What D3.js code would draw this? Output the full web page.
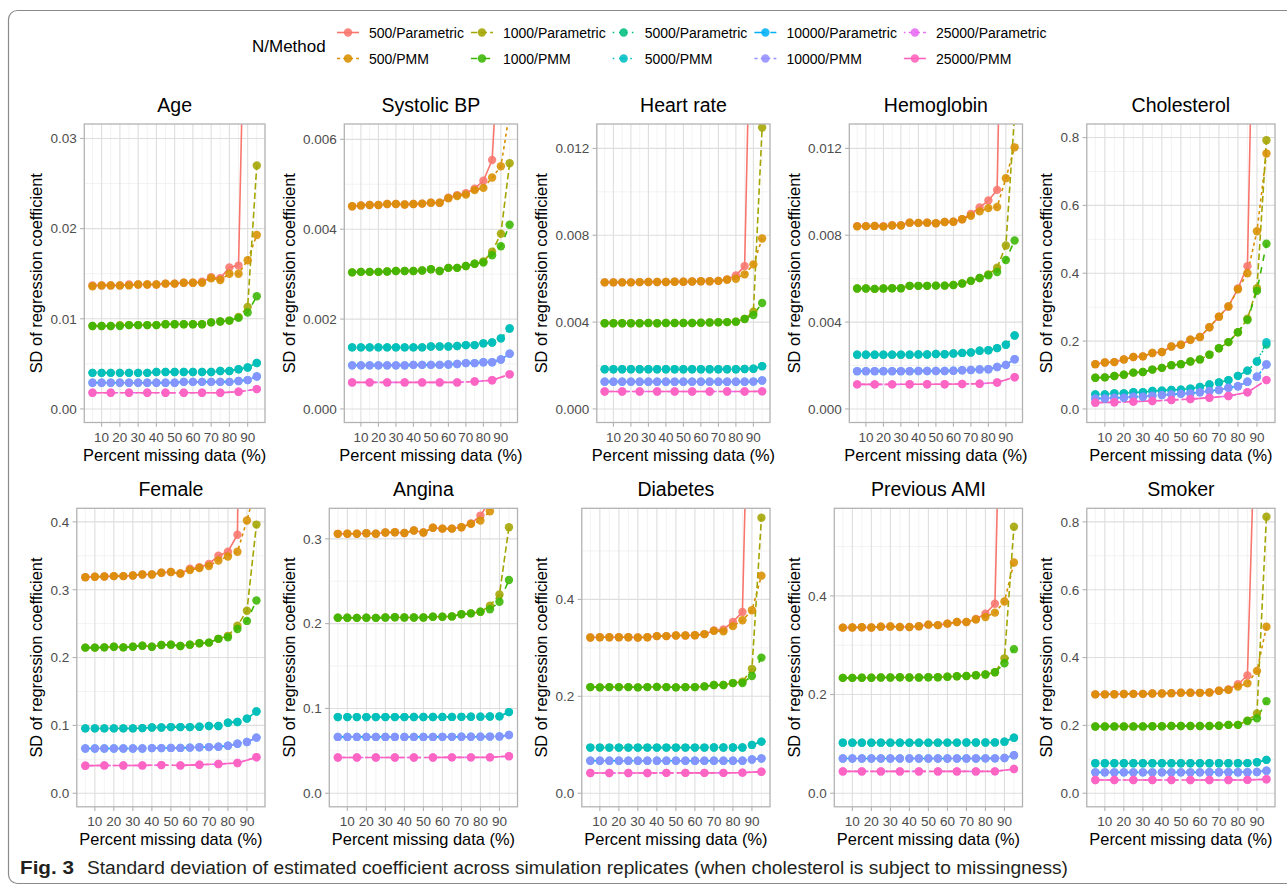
<!DOCTYPE html>
<html><head><meta charset="utf-8">
<script src="https://cdn.jsdelivr.net/npm/d3@7"></script>
<style>
body{margin:0;background:#fff}
svg{display:block}
text{font-family:"Liberation Sans",Arial,Helvetica,sans-serif}
</style>
</head><body>
<svg id="chart" width="1287" height="887"></svg>
<script>
// ---------------- DATA ----------------
const percentMissing = [5,10,15,20,25,30,35,40,45,50,55,60,65,70,75,80,85,90,95];
const percentMissing25k = [5,15,25,35,45,55,65,75,85,95];
const seriesNames = ["500/Parametric","500/PMM","1000/Parametric","1000/PMM","5000/Parametric","5000/PMM","10000/Parametric","10000/PMM","25000/Parametric","25000/PMM"];
const seriesColors = ["#F8766D","#D89000","#A3A500","#39B600","#00BF7D","#00BFC4","#00B0F6","#9590FF","#E76BF3","#FF62BC"];
const seriesLinetypes = ["solid","22","42","44","13","1343","73","2262","12223242","F282"];
const panelNames = ["Age","Systolic BP","Heart rate","Hemoglobin","Cholesterol","Female","Angina","Diabetes","Previous AMI","Smoker"];
const yUpperLimits = [0.0301,0.00604,0.0125,0.0125,0.8,0.4,0.32,0.56,0.55,0.8];
const yTickValues = [
  [0,0.01,0.02,0.03],
  [0,0.002,0.004,0.006],
  [0,0.004,0.008,0.012],
  [0,0.004,0.008,0.012],
  [0,0.2,0.4,0.6,0.8],
  [0,0.1,0.2,0.3,0.4],
  [0,0.1,0.2,0.3],
  [0,0.2,0.4],
  [0,0.2,0.4],
  [0,0.2,0.4,0.6,0.8]
];
const yTickLabels = [
  ["0.00","0.01","0.02","0.03"],
  ["0.000","0.002","0.004","0.006"],
  ["0.000","0.004","0.008","0.012"],
  ["0.000","0.004","0.008","0.012"],
  ["0.0","0.2","0.4","0.6","0.8"],
  ["0.0","0.1","0.2","0.3","0.4"],
  ["0.0","0.1","0.2","0.3"],
  ["0.0","0.2","0.4"],
  ["0.0","0.2","0.4"],
  ["0.0","0.2","0.4","0.6","0.8"]
];
const xTickValues = [10,20,30,40,50,60,70,80,90];
const xTickLabels = ["10","20","30","40","50","60","70","80","90"];

const sdAge = {
  "500/Parametric":[0.0137,0.0137,0.0137,0.0137,0.0138,0.0138,0.0138,0.0138,0.0139,0.0139,0.0140,0.0140,0.0141,0.0146,0.0145,0.0157,0.0159,0.0620,0.0900],
  "500/PMM":[0.0136,0.0137,0.0137,0.0137,0.0137,0.0138,0.0138,0.0138,0.0139,0.0139,0.0140,0.0140,0.0140,0.0145,0.0143,0.0150,0.0150,0.0165,0.0193],
  "1000/Parametric":[0.0092,0.0092,0.0092,0.0093,0.0093,0.0093,0.0093,0.0093,0.0094,0.0094,0.0094,0.0094,0.0094,0.0096,0.0097,0.0098,0.0102,0.0113,0.0270],
  "1000/PMM":[0.0092,0.0092,0.0092,0.0092,0.0093,0.0093,0.0093,0.0093,0.0094,0.0094,0.0094,0.0094,0.0094,0.0096,0.0097,0.0098,0.0101,0.0107,0.0125],
  "5000/Parametric":[0.0040,0.0040,0.0040,0.0040,0.0040,0.0040,0.0040,0.0041,0.0041,0.0041,0.0041,0.0041,0.0041,0.0041,0.0042,0.0042,0.0044,0.0046,0.0051],
  "5000/PMM":[0.0040,0.0040,0.0040,0.0040,0.0040,0.0040,0.0040,0.0041,0.0041,0.0041,0.0041,0.0041,0.0041,0.0041,0.0042,0.0042,0.0044,0.0046,0.0051],
  "10000/Parametric":[0.0029,0.0029,0.0029,0.0029,0.0029,0.0029,0.0029,0.0029,0.0029,0.0029,0.0030,0.0030,0.0030,0.0030,0.0030,0.0030,0.0031,0.0032,0.0036],
  "10000/PMM":[0.0029,0.0029,0.0029,0.0029,0.0029,0.0029,0.0029,0.0029,0.0029,0.0029,0.0030,0.0030,0.0030,0.0030,0.0030,0.0030,0.0031,0.0032,0.0036],
  "25000/Parametric":[0.0018,0.0018,0.0018,0.0018,0.0018,0.0018,0.0018,0.0018,0.0019,0.0022],
  "25000/PMM":[0.0018,0.0018,0.0018,0.0018,0.0018,0.0018,0.0018,0.0018,0.0019,0.0022]
};
const sdSystolicBP = {
  "500/Parametric":[0.00451,0.00453,0.00454,0.00454,0.00456,0.00456,0.00455,0.00456,0.00457,0.00459,0.00459,0.00470,0.00476,0.00480,0.00490,0.00508,0.00554,0.00900,0.01500],
  "500/PMM":[0.00451,0.00453,0.00454,0.00454,0.00456,0.00456,0.00455,0.00456,0.00457,0.00459,0.00459,0.00469,0.00474,0.00477,0.00487,0.00492,0.00515,0.00540,0.00660],
  "1000/Parametric":[0.00304,0.00305,0.00305,0.00305,0.00306,0.00307,0.00307,0.00307,0.00308,0.00311,0.00307,0.00314,0.00314,0.00318,0.00323,0.00328,0.00350,0.00390,0.00547],
  "1000/PMM":[0.00304,0.00305,0.00305,0.00305,0.00306,0.00307,0.00307,0.00307,0.00308,0.00311,0.00307,0.00314,0.00314,0.00318,0.00323,0.00326,0.00342,0.00362,0.00410],
  "5000/Parametric":[0.00137,0.00137,0.00137,0.00137,0.00137,0.00137,0.00137,0.00137,0.00137,0.00139,0.00139,0.00139,0.00140,0.00142,0.00142,0.00146,0.00148,0.00157,0.00179],
  "5000/PMM":[0.00137,0.00137,0.00137,0.00137,0.00137,0.00137,0.00137,0.00137,0.00137,0.00139,0.00139,0.00139,0.00140,0.00142,0.00142,0.00146,0.00148,0.00157,0.00179],
  "10000/Parametric":[0.00097,0.00097,0.00097,0.00097,0.00097,0.00097,0.00097,0.00098,0.00098,0.00098,0.00098,0.00099,0.00100,0.00102,0.00102,0.00104,0.00104,0.00110,0.00123],
  "10000/PMM":[0.00097,0.00097,0.00097,0.00097,0.00097,0.00097,0.00097,0.00098,0.00098,0.00098,0.00098,0.00099,0.00100,0.00102,0.00102,0.00104,0.00104,0.00110,0.00123],
  "25000/Parametric":[0.00059,0.00059,0.00059,0.00059,0.00059,0.00059,0.00059,0.00061,0.00064,0.00077],
  "25000/PMM":[0.00059,0.00059,0.00059,0.00059,0.00059,0.00059,0.00059,0.00061,0.00064,0.00077]
};
const sdHeartRate = {
  "500/Parametric":[0.00583,0.00583,0.00583,0.00583,0.00584,0.00585,0.00585,0.00585,0.00586,0.00586,0.00587,0.00588,0.00588,0.00590,0.00597,0.00615,0.00658,0.02500,0.04000],
  "500/PMM":[0.00583,0.00583,0.00583,0.00583,0.00584,0.00585,0.00585,0.00585,0.00586,0.00586,0.00587,0.00588,0.00588,0.00590,0.00595,0.00600,0.00620,0.00666,0.00785],
  "1000/Parametric":[0.00395,0.00395,0.00395,0.00395,0.00395,0.00396,0.00395,0.00396,0.00396,0.00396,0.00396,0.00397,0.00398,0.00399,0.00400,0.00402,0.00415,0.00448,0.01296],
  "1000/PMM":[0.00395,0.00395,0.00395,0.00395,0.00395,0.00396,0.00395,0.00396,0.00396,0.00396,0.00396,0.00397,0.00398,0.00399,0.00400,0.00402,0.00414,0.00433,0.00488],
  "5000/Parametric":[0.00183,0.00183,0.00183,0.00183,0.00183,0.00183,0.00183,0.00183,0.00183,0.00183,0.00183,0.00183,0.00183,0.00183,0.00183,0.00183,0.00184,0.00185,0.00197],
  "5000/PMM":[0.00183,0.00183,0.00183,0.00183,0.00183,0.00183,0.00183,0.00183,0.00183,0.00183,0.00183,0.00183,0.00183,0.00183,0.00183,0.00183,0.00184,0.00185,0.00197],
  "10000/Parametric":[0.00125,0.00125,0.00125,0.00125,0.00125,0.00125,0.00125,0.00125,0.00125,0.00125,0.00125,0.00125,0.00125,0.00125,0.00125,0.00125,0.00125,0.00126,0.00131],
  "10000/PMM":[0.00125,0.00125,0.00125,0.00125,0.00125,0.00125,0.00125,0.00125,0.00125,0.00125,0.00125,0.00125,0.00125,0.00125,0.00125,0.00125,0.00125,0.00126,0.00131],
  "25000/Parametric":[0.00080,0.00080,0.00080,0.00080,0.00080,0.00080,0.00080,0.00080,0.00080,0.00081],
  "25000/PMM":[0.00080,0.00080,0.00080,0.00080,0.00080,0.00080,0.00080,0.00080,0.00080,0.00081]
};
const sdHemoglobin = {
  "500/Parametric":[0.00842,0.00842,0.00843,0.00842,0.00846,0.00846,0.00858,0.00857,0.00858,0.00855,0.00861,0.00862,0.00874,0.00898,0.00928,0.00960,0.01009,0.03100,0.04500],
  "500/PMM":[0.00841,0.00842,0.00843,0.00840,0.00845,0.00845,0.00858,0.00857,0.00858,0.00855,0.00861,0.00862,0.00874,0.00890,0.00910,0.00925,0.00930,0.01063,0.01205],
  "1000/Parametric":[0.00555,0.00555,0.00553,0.00555,0.00556,0.00556,0.00567,0.00567,0.00567,0.00568,0.00568,0.00571,0.00578,0.00590,0.00603,0.00620,0.00650,0.00753,0.01360],
  "1000/PMM":[0.00555,0.00555,0.00553,0.00555,0.00556,0.00556,0.00567,0.00567,0.00567,0.00568,0.00568,0.00571,0.00578,0.00590,0.00603,0.00616,0.00631,0.00686,0.00776],
  "5000/Parametric":[0.00250,0.00250,0.00250,0.00250,0.00250,0.00250,0.00250,0.00251,0.00251,0.00253,0.00252,0.00255,0.00258,0.00260,0.00268,0.00270,0.00280,0.00296,0.00338],
  "5000/PMM":[0.00250,0.00250,0.00250,0.00250,0.00250,0.00250,0.00250,0.00251,0.00251,0.00253,0.00252,0.00255,0.00258,0.00260,0.00268,0.00270,0.00280,0.00296,0.00338],
  "10000/Parametric":[0.00174,0.00174,0.00174,0.00174,0.00174,0.00174,0.00174,0.00175,0.00175,0.00175,0.00175,0.00176,0.00178,0.00179,0.00182,0.00183,0.00193,0.00203,0.00229],
  "10000/PMM":[0.00174,0.00174,0.00174,0.00174,0.00174,0.00174,0.00174,0.00175,0.00175,0.00175,0.00175,0.00176,0.00178,0.00179,0.00182,0.00183,0.00193,0.00203,0.00229],
  "25000/Parametric":[0.00113,0.00113,0.00113,0.00114,0.00114,0.00114,0.00115,0.00116,0.00122,0.00146],
  "25000/PMM":[0.00113,0.00113,0.00113,0.00114,0.00114,0.00114,0.00115,0.00116,0.00122,0.00146]
};
const sdCholesterol = {
  "500/Parametric":[0.132,0.137,0.138,0.146,0.153,0.155,0.165,0.168,0.184,0.189,0.204,0.212,0.241,0.272,0.302,0.355,0.421,1.800,3.000],
  "500/PMM":[0.132,0.137,0.138,0.146,0.153,0.155,0.165,0.168,0.184,0.189,0.204,0.212,0.241,0.272,0.302,0.353,0.400,0.524,0.753],
  "1000/Parametric":[0.092,0.093,0.097,0.101,0.107,0.109,0.116,0.121,0.129,0.132,0.140,0.146,0.160,0.179,0.197,0.226,0.266,0.356,0.792],
  "1000/PMM":[0.092,0.093,0.097,0.101,0.107,0.109,0.116,0.121,0.129,0.132,0.140,0.146,0.160,0.179,0.197,0.226,0.262,0.348,0.487],
  "5000/Parametric":[0.043,0.043,0.046,0.046,0.049,0.049,0.053,0.054,0.056,0.057,0.060,0.065,0.072,0.078,0.085,0.0975,0.113,0.140,0.190],
  "5000/PMM":[0.043,0.043,0.046,0.046,0.049,0.049,0.053,0.054,0.056,0.057,0.060,0.065,0.072,0.078,0.085,0.0975,0.113,0.140,0.197],
  "10000/Parametric":[0.031,0.031,0.033,0.033,0.036,0.036,0.039,0.041,0.043,0.045,0.046,0.049,0.053,0.056,0.0625,0.067,0.080,0.095,0.131],
  "10000/PMM":[0.031,0.031,0.033,0.033,0.036,0.036,0.039,0.041,0.043,0.045,0.046,0.049,0.053,0.056,0.0625,0.067,0.080,0.095,0.131],
  "25000/Parametric":[0.0185,0.0195,0.0215,0.0234,0.0263,0.029,0.033,0.038,0.049,0.085],
  "25000/PMM":[0.0185,0.0195,0.0215,0.0234,0.0263,0.029,0.033,0.038,0.049,0.085]
};
const sdFemale = {
  "500/Parametric":[0.3185,0.319,0.3195,0.320,0.320,0.321,0.3225,0.3225,0.325,0.326,0.324,0.331,0.333,0.338,0.350,0.356,0.381,1.500,2.000],
  "500/PMM":[0.3185,0.319,0.3195,0.320,0.320,0.321,0.3225,0.3225,0.325,0.326,0.324,0.329,0.332,0.335,0.343,0.349,0.356,0.402,0.455],
  "1000/Parametric":[0.2146,0.2146,0.215,0.216,0.215,0.216,0.2175,0.216,0.2185,0.219,0.217,0.219,0.221,0.222,0.2276,0.232,0.247,0.269,0.396],
  "1000/PMM":[0.2146,0.2146,0.215,0.216,0.215,0.216,0.2175,0.216,0.2185,0.219,0.217,0.219,0.221,0.222,0.2276,0.230,0.242,0.254,0.284],
  "5000/Parametric":[0.0956,0.0956,0.0956,0.0956,0.0956,0.0956,0.0960,0.0970,0.0970,0.0975,0.0975,0.0975,0.0980,0.0990,0.0990,0.104,0.105,0.110,0.1205],
  "5000/PMM":[0.0956,0.0956,0.0956,0.0956,0.0956,0.0956,0.0960,0.0970,0.0970,0.0975,0.0975,0.0975,0.0980,0.0990,0.0990,0.104,0.105,0.110,0.1205],
  "10000/Parametric":[0.0659,0.066,0.066,0.066,0.066,0.066,0.066,0.0665,0.0665,0.0668,0.0668,0.0672,0.0678,0.068,0.0685,0.070,0.073,0.0756,0.082],
  "10000/PMM":[0.0659,0.066,0.066,0.066,0.066,0.066,0.066,0.0665,0.0665,0.0668,0.0668,0.0672,0.0678,0.068,0.0685,0.070,0.073,0.0756,0.082],
  "25000/Parametric":[0.0405,0.041,0.0408,0.041,0.0415,0.041,0.042,0.043,0.0446,0.053],
  "25000/PMM":[0.0405,0.041,0.0408,0.041,0.0415,0.041,0.042,0.043,0.0446,0.053]
};
const sdAngina = {
  "500/Parametric":[0.3059,0.306,0.306,0.3065,0.306,0.3075,0.3078,0.3068,0.3098,0.3075,0.313,0.312,0.312,0.3137,0.318,0.3274,0.345,0.600,0.900],
  "500/PMM":[0.3059,0.306,0.306,0.3065,0.306,0.3075,0.3078,0.3068,0.3098,0.3075,0.313,0.312,0.312,0.3137,0.3176,0.3215,0.3325,0.400,0.450],
  "1000/Parametric":[0.207,0.207,0.2068,0.207,0.2068,0.2072,0.2075,0.2072,0.2072,0.2072,0.2082,0.2082,0.2085,0.211,0.2121,0.214,0.221,0.2344,0.3137],
  "1000/PMM":[0.207,0.207,0.2068,0.207,0.2068,0.2072,0.2075,0.2072,0.2072,0.2072,0.2082,0.2082,0.2085,0.211,0.2121,0.214,0.217,0.2258,0.2515],
  "5000/Parametric":[0.0898,0.0898,0.0898,0.0898,0.0898,0.0898,0.0898,0.0898,0.0899,0.0899,0.0899,0.0900,0.0900,0.0901,0.0902,0.0903,0.0905,0.0906,0.0957],
  "5000/PMM":[0.0898,0.0898,0.0898,0.0898,0.0898,0.0898,0.0898,0.0898,0.0899,0.0899,0.0899,0.0900,0.0900,0.0901,0.0902,0.0903,0.0905,0.0906,0.0957],
  "10000/Parametric":[0.0664,0.0664,0.0664,0.0664,0.0664,0.0664,0.0664,0.0664,0.0664,0.0664,0.0664,0.0665,0.0665,0.0666,0.0666,0.0667,0.0668,0.0670,0.0687],
  "10000/PMM":[0.0664,0.0664,0.0664,0.0664,0.0664,0.0664,0.0664,0.0664,0.0664,0.0664,0.0664,0.0665,0.0665,0.0666,0.0666,0.0667,0.0668,0.0670,0.0687],
  "25000/Parametric":[0.0422,0.0422,0.0422,0.0422,0.0422,0.0422,0.0423,0.0423,0.0423,0.0437],
  "25000/PMM":[0.0422,0.0422,0.0422,0.0422,0.0422,0.0422,0.0423,0.0423,0.0423,0.0437]
};
const sdDiabetes = {
  "500/Parametric":[0.3215,0.322,0.322,0.322,0.322,0.3215,0.322,0.3242,0.3242,0.3256,0.3256,0.326,0.3283,0.336,0.338,0.3536,0.374,1.200,2.000],
  "500/PMM":[0.3215,0.322,0.322,0.322,0.322,0.3215,0.322,0.3242,0.3242,0.3256,0.3256,0.326,0.3283,0.335,0.334,0.3448,0.357,0.3775,0.449],
  "1000/Parametric":[0.219,0.2185,0.219,0.219,0.219,0.2185,0.219,0.2195,0.219,0.2185,0.219,0.219,0.2205,0.2232,0.2232,0.2273,0.230,0.2567,0.5686],
  "1000/PMM":[0.219,0.2185,0.219,0.219,0.219,0.2185,0.219,0.2195,0.219,0.2185,0.219,0.219,0.2205,0.2232,0.2232,0.2273,0.2275,0.242,0.2799],
  "5000/Parametric":[0.0942,0.0942,0.0942,0.0942,0.0942,0.0942,0.0942,0.0942,0.0942,0.0942,0.0942,0.0942,0.0942,0.0943,0.0943,0.0944,0.0944,0.0997,0.1065],
  "5000/PMM":[0.0942,0.0942,0.0942,0.0942,0.0942,0.0942,0.0942,0.0942,0.0942,0.0942,0.0942,0.0942,0.0942,0.0943,0.0943,0.0944,0.0944,0.0997,0.1065],
  "10000/Parametric":[0.0669,0.0669,0.0669,0.0669,0.0669,0.0669,0.0669,0.0669,0.0669,0.0669,0.0669,0.0669,0.0669,0.0670,0.0670,0.0671,0.0672,0.0696,0.0717],
  "10000/PMM":[0.0669,0.0669,0.0669,0.0669,0.0669,0.0669,0.0669,0.0669,0.0669,0.0669,0.0669,0.0669,0.0669,0.0670,0.0670,0.0671,0.0672,0.0696,0.0717],
  "25000/Parametric":[0.0416,0.0416,0.0418,0.0418,0.0420,0.0420,0.0420,0.0420,0.0425,0.0444],
  "25000/PMM":[0.0416,0.0416,0.0418,0.0418,0.0420,0.0420,0.0420,0.0420,0.0425,0.0444]
};
const sdPreviousAMI = {
  "500/Parametric":[0.3357,0.336,0.3365,0.336,0.3375,0.338,0.337,0.337,0.3385,0.3417,0.3407,0.3437,0.347,0.347,0.353,0.3638,0.384,1.200,2.000],
  "500/PMM":[0.3357,0.336,0.3365,0.336,0.3375,0.338,0.337,0.337,0.3385,0.3417,0.3407,0.3437,0.347,0.347,0.352,0.357,0.366,0.3886,0.4676],
  "1000/Parametric":[0.2338,0.2338,0.234,0.234,0.2345,0.2345,0.235,0.2345,0.2345,0.235,0.235,0.236,0.237,0.2375,0.239,0.2406,0.2452,0.2734,0.540],
  "1000/PMM":[0.2338,0.2338,0.234,0.234,0.2345,0.2345,0.235,0.2345,0.2345,0.235,0.235,0.236,0.237,0.2375,0.239,0.2406,0.2452,0.2633,0.292],
  "5000/Parametric":[0.1025,0.1025,0.1025,0.1025,0.1025,0.1025,0.1025,0.1025,0.1025,0.1025,0.1025,0.1026,0.1026,0.1027,0.1028,0.1029,0.1030,0.1045,0.1126],
  "5000/PMM":[0.1025,0.1025,0.1025,0.1025,0.1025,0.1025,0.1025,0.1025,0.1025,0.1025,0.1025,0.1026,0.1026,0.1027,0.1028,0.1029,0.1030,0.1045,0.1126],
  "10000/Parametric":[0.0703,0.0703,0.0703,0.0703,0.0703,0.0703,0.0703,0.0703,0.0703,0.0703,0.0703,0.0704,0.0704,0.0705,0.0705,0.0706,0.0707,0.0715,0.0770],
  "10000/PMM":[0.0703,0.0703,0.0703,0.0703,0.0703,0.0703,0.0703,0.0703,0.0703,0.0703,0.0703,0.0704,0.0704,0.0705,0.0705,0.0706,0.0707,0.0715,0.0770],
  "25000/Parametric":[0.0442,0.0442,0.0442,0.0442,0.0442,0.0442,0.0442,0.0442,0.0443,0.0490],
  "25000/PMM":[0.0442,0.0442,0.0442,0.0442,0.0442,0.0442,0.0442,0.0442,0.0443,0.0490]
};
const sdSmoker = {
  "500/Parametric":[0.2914,0.2914,0.292,0.2925,0.293,0.293,0.294,0.294,0.295,0.2963,0.2963,0.296,0.297,0.302,0.306,0.3212,0.347,1.300,2.500],
  "500/PMM":[0.2914,0.2914,0.292,0.2925,0.293,0.293,0.294,0.294,0.295,0.2963,0.2963,0.296,0.297,0.302,0.305,0.3144,0.324,0.3607,0.4908],
  "1000/Parametric":[0.1966,0.1966,0.197,0.197,0.197,0.197,0.1975,0.1975,0.198,0.198,0.198,0.198,0.198,0.199,0.2016,0.2016,0.214,0.235,0.815],
  "1000/PMM":[0.1966,0.1966,0.197,0.197,0.197,0.197,0.1975,0.1975,0.198,0.198,0.198,0.198,0.198,0.199,0.2016,0.2016,0.213,0.2208,0.2714],
  "5000/Parametric":[0.0884,0.0884,0.0884,0.0884,0.0884,0.0884,0.0884,0.0884,0.0884,0.0884,0.0884,0.0884,0.0884,0.0885,0.0885,0.0886,0.0887,0.0914,0.0983],
  "5000/PMM":[0.0884,0.0884,0.0884,0.0884,0.0884,0.0884,0.0884,0.0884,0.0884,0.0884,0.0884,0.0884,0.0884,0.0885,0.0885,0.0886,0.0887,0.0914,0.0983],
  "10000/Parametric":[0.0616,0.0616,0.0616,0.0616,0.0616,0.0616,0.0616,0.0616,0.0616,0.0616,0.0616,0.0616,0.0617,0.0617,0.0617,0.0618,0.0618,0.0625,0.0665],
  "10000/PMM":[0.0616,0.0616,0.0616,0.0616,0.0616,0.0616,0.0616,0.0616,0.0616,0.0616,0.0616,0.0616,0.0617,0.0617,0.0617,0.0618,0.0618,0.0625,0.0665],
  "25000/Parametric":[0.0391,0.0391,0.0391,0.0391,0.0391,0.0391,0.0391,0.0392,0.0393,0.0411],
  "25000/PMM":[0.0391,0.0391,0.0391,0.0391,0.0391,0.0391,0.0391,0.0392,0.0393,0.0411]
};
const panelData = [sdAge,sdSystolicBP,sdHeartRate,sdHemoglobin,sdCholesterol,sdFemale,sdAngina,sdDiabetes,sdPreviousAMI,sdSmoker];

const legendTitle = "N/Method";
const xAxisTitle = "Percent missing data (%)";
const yAxisTitle = "SD of regression coefficient";
const captionLabel = "Fig. 3";
const captionText = "Standard deviation of estimated coefficient across simulation replicates (when cholesterol is subject to missingness)";

// ---------------- LAYOUT / STYLE ----------------
const svg = d3.select("#chart");
const W = 1287, H = 887;
const colRight = [265, 517.5, 770, 1022.5, 1275];
const rowTop = [124, 508.3];
const panelH = 298.5;
const lwd = 1.6;
const tickFont = 13.5, titleFont = 16.4, stripFont = 19.5;

function dashFor(lt){
  if (lt === "solid") return null;
  return lt.split("").map(ch => parseInt(ch,16)*lwd).join(",");
}
const measurer = svg.append("text").attr("font-size", tickFont).attr("visibility","hidden");
function textW(s, size){ measurer.attr("font-size", size).text(s); return measurer.node().getComputedTextLength(); }

// frame
svg.append("rect").attr("x",8.5).attr("y",10.5).attr("width",1300).attr("height",873)
  .attr("rx",9).attr("fill","none").attr("stroke","#8a8a8a").attr("stroke-width",1.2);

const defs = svg.append("defs");

panelNames.forEach((name, i) => {
  const row = Math.floor(i/5), col = i % 5;
  const right = colRight[col];
  const subLeft = right - 246.5;
  const labels = yTickLabels[i];
  const maxW = d3.max(labels, l => textW(l, tickFont));
  const left = subLeft + 39.5 + maxW;
  const top = rowTop[row], bottom = top + panelH;
  const L = yUpperLimits[i];
  const x = d3.scaleLinear().domain([0.5, 99.5]).range([left, right]);
  const y = d3.scaleLinear().domain([-0.05*L, 1.05*L]).range([bottom, top]);
  const g = svg.append("g");

  // grid
  const ticks = yTickValues[i];
  const step = ticks[1]-ticks[0];
  const yMinor = [];
  for (let k = -1; k < ticks.length; k++) {
    const v = ticks[0] + (k+0.5)*step;
    if (v > y.domain()[0] && v < y.domain()[1]) yMinor.push(v);
  }
  const xMinor = [5,15,25,35,45,55,65,75,85,95];
  g.selectAll(".ymin").data(yMinor).join("line")
    .attr("x1",left).attr("x2",right).attr("y1",d=>y(d)).attr("y2",d=>y(d))
    .attr("stroke","#EBEBEB").attr("stroke-width",0.6);
  g.selectAll(".xmin").data(xMinor).join("line")
    .attr("y1",top).attr("y2",bottom).attr("x1",d=>x(d)).attr("x2",d=>x(d))
    .attr("stroke","#EBEBEB").attr("stroke-width",0.6);
  g.selectAll(".ymaj").data(ticks).join("line")
    .attr("x1",left).attr("x2",right).attr("y1",d=>y(d)).attr("y2",d=>y(d))
    .attr("stroke","#DEDEDE").attr("stroke-width",1.1);
  g.selectAll(".xmaj").data(xTickValues).join("line")
    .attr("y1",top).attr("y2",bottom).attr("x1",d=>x(d)).attr("x2",d=>x(d))
    .attr("stroke","#DEDEDE").attr("stroke-width",1.1);

  // clip
  const cid = "clip"+i;
  defs.append("clipPath").attr("id",cid).append("rect")
    .attr("x",left).attr("y",top).attr("width",right-left).attr("height",bottom-top);
  const plot = g.append("g").attr("clip-path",`url(#${cid})`);
  const data = panelData[i];
  const line = d3.line().x(d=>x(d[0])).y(d=>y(d[1]));
  const seriesPts = seriesNames.map(s => {
    const xs = s.startsWith("25000") ? percentMissing25k : percentMissing;
    return xs.map((xv, j) => [xv, data[s][j]]);
  });
  seriesNames.forEach((s, k) => {
    const p = plot.append("path").attr("d", line(seriesPts[k]))
      .attr("fill","none").attr("stroke",seriesColors[k]).attr("stroke-width",lwd)
      .attr("stroke-linejoin","round");
    const da = dashFor(seriesLinetypes[k]);
    if (da) p.attr("stroke-dasharray", da);
  });
  seriesNames.forEach((s, k) => {
    plot.selectAll(null).data(seriesPts[k]).join("circle")
      .attr("cx",d=>x(d[0])).attr("cy",d=>y(d[1])).attr("r",4.2)
      .attr("fill",seriesColors[k]).attr("fill-opacity",0.88);
  });

  // border
  g.append("rect").attr("x",left).attr("y",top).attr("width",right-left).attr("height",bottom-top)
    .attr("fill","none").attr("stroke","#B3B3B3").attr("stroke-width",1.3);

  // y axis ticks & labels
  ticks.forEach((t, k) => {
    g.append("line").attr("x1",left-4.2).attr("x2",left).attr("y1",y(t)).attr("y2",y(t))
      .attr("stroke","#B3B3B3").attr("stroke-width",1.1);
    g.append("text").attr("x",left-7.6).attr("y",y(t)).attr("dy","0.36em")
      .attr("text-anchor","end").attr("font-size",tickFont).attr("fill","#4D4D4D").text(labels[k]);
  });
  // x axis ticks & labels
  xTickValues.forEach((t, k) => {
    g.append("line").attr("x1",x(t)).attr("x2",x(t)).attr("y1",bottom).attr("y2",bottom+4.2)
      .attr("stroke","#B3B3B3").attr("stroke-width",1.1);
    g.append("text").attr("x",x(t)).attr("y",bottom+19.5)
      .attr("text-anchor","middle").attr("font-size",tickFont).attr("fill","#4D4D4D").text(xTickLabels[k]);
  });
  // titles
  g.append("text").attr("x",(left+right)/2).attr("y",bottom+38.5).attr("text-anchor","middle")
    .attr("font-size",titleFont).attr("fill","#000").text(xAxisTitle);
  const ycx = subLeft + 18, ycy = (top+bottom)/2;
  g.append("text").attr("transform",`translate(${ycx},${ycy}) rotate(-90)`).attr("dy","0.36em")
    .attr("text-anchor","middle").attr("font-size",titleFont).attr("fill","#000").text(yAxisTitle);
  g.append("text").attr("x",(left+right)/2).attr("y",top-12.5).attr("text-anchor","middle")
    .attr("font-size",stripFont).attr("fill","#000").text(name);
});

// legend
const lg = svg.append("g");
lg.append("text").attr("x",252).attr("y",52).attr("font-size",17).attr("fill","#000").text(legendTitle);
const rowsY = [32.5, 58.5];
let keyLeft = 337;
for (let c = 0; c < 5; c++) {
  const pair = [seriesNames[2*c], seriesNames[2*c+1]];
  const maxW = d3.max(pair, s => textW(s, 14));
  pair.forEach((s, r) => {
    const k = 2*c + r;
    const cy = rowsY[r];
    const ln = lg.append("line").attr("x1",keyLeft).attr("x2",keyLeft+22).attr("y1",cy).attr("y2",cy)
      .attr("stroke",seriesColors[k]).attr("stroke-width",lwd);
    const da = dashFor(seriesLinetypes[k]);
    if (da) ln.attr("stroke-dasharray", da);
    lg.append("circle").attr("cx",keyLeft+11).attr("cy",cy).attr("r",4.2)
      .attr("fill",seriesColors[k]).attr("fill-opacity",0.88);
    lg.append("text").attr("x",keyLeft+32).attr("y",cy+5).attr("font-size",14).attr("fill","#000").text(s);
  });
  keyLeft = keyLeft + 32 + maxW + 7;
}

// caption
svg.append("text").attr("x",20).attr("y",874).attr("font-size",18).attr("font-weight","bold")
  .attr("fill","#231F20").attr("textLength",54).attr("lengthAdjust","spacingAndGlyphs").text(captionLabel);
svg.append("text").attr("x",87).attr("y",874).attr("font-size",18)
  .attr("fill","#231F20").attr("textLength",981).attr("lengthAdjust","spacingAndGlyphs").text(captionText);
measurer.remove();
</script>
</body></html>
